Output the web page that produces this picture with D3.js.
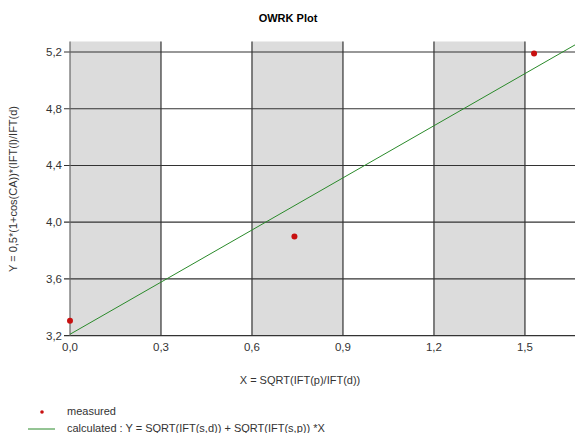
<!DOCTYPE html>
<html>
<head>
<meta charset="utf-8">
<script src="https://cdn.jsdelivr.net/npm/d3@7"></script>
<style>
  body { margin: 0; background: #fff; }
  text { font-family: "Liberation Sans", Arial, sans-serif; }
</style>
</head>
<body>
<script>
  var w = 575, h = 433;

  // data
  var measuredX = [0.0, 0.74, 1.53];
  var measuredY = [3.305, 3.90, 5.19];
  var calcX = [0.0, 1.665];
  var calcY = [3.21, 5.25];
  var xTicks = [0.0, 0.3, 0.6, 0.9, 1.2, 1.5];
  var yTicks = [3.2, 3.6, 4.0, 4.4, 4.8, 5.2];
  var bands = [[0.0, 0.3], [0.6, 0.9], [1.2, 1.5]];

  var margin = {top: 41.5, left: 70, bottom: 335.7, right: 575};
  var fmt = function (d) { return d3.format(".1f")(d).replace(".", ","); };

  var x = d3.scaleLinear().domain([0, 1.665]).range([margin.left, margin.right]);
  var y = d3.scaleLinear().domain([3.2, 5.274]).range([margin.bottom, margin.top]);

  var svg = d3.select("body").append("svg")
    .attr("width", w)
    .attr("height", h);

  svg.append("text")
    .attr("x", 288).attr("y", 22)
    .attr("text-anchor", "middle")
    .attr("font-size", "11px")
    .attr("font-weight", "bold")
    .text("OWRK Plot");

  // shaded bands
  svg.selectAll("rect.band")
    .data(bands)
    .enter().append("rect")
    .attr("class", "band")
    .attr("x", function (d) { return x(d[0]); })
    .attr("width", function (d) { return x(d[1]) - x(d[0]); })
    .attr("y", margin.top)
    .attr("height", margin.bottom - margin.top)
    .attr("fill", "#dcdcdc");

  // horizontal grid + ticks
  svg.selectAll("line.hgrid")
    .data(yTicks)
    .enter().append("line")
    .attr("x1", margin.left - 6).attr("x2", margin.right)
    .attr("y1", function (d) { return y(d); })
    .attr("y2", function (d) { return y(d); })
    .attr("stroke", "#333").attr("stroke-width", 1.2);

  svg.selectAll("line.vgrid")
    .data(xTicks)
    .enter().append("line")
    .attr("y1", margin.top).attr("y2", margin.bottom)
    .attr("x1", function (d) { return x(d); })
    .attr("x2", function (d) { return x(d); })
    .attr("stroke", function (d, i) { return i == 0 ? "#666" : "#333"; })
    .attr("stroke-width", 1.2);

  svg.selectAll("text.ylab")
    .data(yTicks)
    .enter().append("text")
    .attr("x", margin.left - 8)
    .attr("y", function (d) { return y(d) + 4; })
    .attr("text-anchor", "end")
    .attr("font-size", "11.5px")
    .attr("fill", "#333")
    .text(fmt);

  svg.selectAll("text.xlab")
    .data(xTicks)
    .enter().append("text")
    .attr("x", function (d) { return x(d); })
    .attr("y", margin.bottom + 15)
    .attr("text-anchor", "middle")
    .attr("font-size", "11.5px")
    .attr("fill", "#333")
    .text(fmt);

  svg.append("text")
    .attr("x", 300).attr("y", 384)
    .attr("text-anchor", "middle")
    .attr("font-size", "11px")
    .attr("fill", "#333")
    .text("X = SQRT(IFT(p)/IFT(d))");

  svg.append("text")
    .attr("transform", "translate(17,189) rotate(-90)")
    .attr("text-anchor", "middle")
    .attr("font-size", "11px")
    .attr("fill", "#333")
    .text("Y = 0,5*(1+cos(CA))*(IFT(l)/IFT(d)");

  // calculated line
  var line = d3.line()
    .x(function (d) { return x(d[0]); })
    .y(function (d) { return y(d[1]); });
  svg.append("path")
    .datum(d3.zip(calcX, calcY))
    .attr("d", line)
    .attr("fill", "none")
    .attr("stroke", "#2a8a2a")
    .attr("stroke-width", 1);

  // measured points
  svg.selectAll("circle.pt")
    .data(d3.zip(measuredX, measuredY))
    .enter().append("circle")
    .attr("cx", function (d) { return x(d[0]); })
    .attr("cy", function (d) { return y(d[1]); })
    .attr("r", 3)
    .attr("fill", "#c81010");

  // legend
  svg.append("circle")
    .attr("cx", 42).attr("cy", 412).attr("r", 1.8)
    .attr("fill", "#c81010");
  svg.append("text")
    .attr("x", 67).attr("y", 415)
    .attr("font-size", "11px").attr("fill", "#333")
    .text("measured");
  svg.append("line")
    .attr("x1", 28).attr("x2", 55)
    .attr("y1", 429).attr("y2", 429)
    .attr("stroke", "#2a8a2a");
  svg.append("text")
    .attr("x", 67).attr("y", 432)
    .attr("font-size", "11px").attr("fill", "#333")
    .text("calculated : Y = SQRT(IFT(s,d)) + SQRT(IFT(s,p)) *X");
</script>
</body>
</html>
